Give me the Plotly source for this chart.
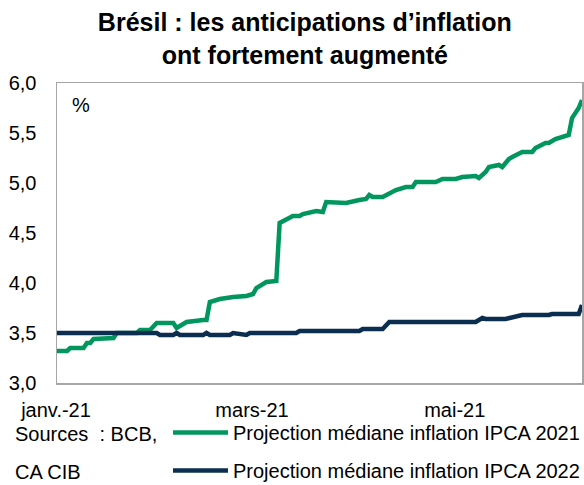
import plotly.graph_objects as go

# ---- data ----
dates_2021 = [
    "2021-01-04", "2021-01-07", "2021-01-08", "2021-01-12", "2021-01-13", "2021-01-14",
    "2021-01-15", "2021-01-21", "2021-01-22", "2021-01-28", "2021-01-29", "2021-02-01",
    "2021-02-03", "2021-02-08", "2021-02-09", "2021-02-12", "2021-02-17", "2021-02-18",
    "2021-02-19", "2021-02-22", "2021-02-26", "2021-03-02", "2021-03-04", "2021-03-05",
    "2021-03-08", "2021-03-11", "2021-03-12", "2021-03-15", "2021-03-16", "2021-03-18",
    "2021-03-19", "2021-03-23", "2021-03-25", "2021-03-26", "2021-03-29", "2021-04-01",
    "2021-04-05", "2021-04-07", "2021-04-08", "2021-04-09", "2021-04-12", "2021-04-14",
    "2021-04-16", "2021-04-19", "2021-04-21", "2021-04-22", "2021-04-28", "2021-04-30",
    "2021-05-04", "2021-05-06", "2021-05-10", "2021-05-11", "2021-05-13", "2021-05-14",
    "2021-05-17", "2021-05-18", "2021-05-20", "2021-05-21", "2021-05-24", "2021-05-27",
    "2021-05-28", "2021-05-31", "2021-06-01", "2021-06-03", "2021-06-04", "2021-06-07",
    "2021-06-08", "2021-06-09", "2021-06-10", "2021-06-11",
]
ipca_2021 = [
    3.32, 3.32, 3.35, 3.35, 3.40, 3.40,
    3.44, 3.45, 3.50, 3.50, 3.53, 3.53,
    3.60, 3.60, 3.55, 3.61, 3.63, 3.63,
    3.81, 3.84, 3.86, 3.87, 3.89, 3.95,
    4.01, 4.02, 4.60, 4.65, 4.67, 4.67,
    4.69, 4.72, 4.71, 4.81, 4.81, 4.80,
    4.83, 4.84, 4.88, 4.86, 4.86, 4.90,
    4.93, 4.96, 4.96, 5.01, 5.01, 5.04,
    5.04, 5.06, 5.07, 5.05, 5.11, 5.16,
    5.18, 5.16, 5.24, 5.26, 5.31, 5.31,
    5.35, 5.40, 5.40, 5.44, 5.45, 5.48,
    5.65, 5.70, 5.75, 5.83,
]

dates_2022 = [
    "2021-01-04", "2021-02-03", "2021-02-04", "2021-02-08", "2021-02-09", "2021-02-10",
    "2021-02-17", "2021-02-18", "2021-02-19", "2021-02-25", "2021-02-26", "2021-03-01",
    "2021-03-02", "2021-03-03", "2021-03-17", "2021-03-18", "2021-04-05", "2021-04-06",
    "2021-04-12", "2021-04-14", "2021-05-10", "2021-05-12", "2021-05-13", "2021-05-19",
    "2021-05-21", "2021-05-24", "2021-06-01", "2021-06-02", "2021-06-10", "2021-06-11",
]
ipca_2022 = [
    3.50, 3.50, 3.48, 3.48, 3.50, 3.48,
    3.48, 3.50, 3.48, 3.48, 3.50, 3.48,
    3.48, 3.50, 3.50, 3.52, 3.52, 3.54,
    3.54, 3.61, 3.61, 3.65, 3.64, 3.64,
    3.66, 3.68, 3.68, 3.69, 3.69, 3.78,
]

series_names = ["Projection médiane inflation IPCA 2021",
                "Projection médiane inflation IPCA 2022"]
tick_dates = ["2021-01-04", "2021-03-04", "2021-05-04"]
tick_labels = ["janv.-21", "mars-21", "mai-21"]
y_ticks = [3.0, 3.5, 4.0, 4.5, 5.0, 5.5, 6.0]

GREEN = "#00965E"
NAVY = "#0B2D50"
FRAME = "#A6A6A6"
FONT = "Liberation Sans, Arial, sans-serif"

fig = go.Figure()
fig.add_trace(go.Scatter(x=dates_2021, y=ipca_2021, mode="lines", name=series_names[0],
                         line=dict(color=GREEN, width=4.5), legendgroup="a"))
fig.add_trace(go.Scatter(x=dates_2022, y=ipca_2022, mode="lines", name=series_names[1],
                         line=dict(color=NAVY, width=4.5), legendgroup="b"))

fig.update_layout(
    width=584, height=485,
    margin=dict(l=57, r=2, t=83, b=102, autoexpand=False),
    paper_bgcolor="white", plot_bgcolor="white",
    separators=", ",
    font=dict(family=FONT, size=20, color="black"),
    title=dict(text="<b>Brésil : les anticipations d’inflation<br>ont fortement augmenté</b>",
               x=0.522, xanchor="center", y=0.936, yanchor="top",
               font=dict(family=FONT, size=25, color="black")),
    showlegend=True,
    legend=dict(orientation="v", x=0.2114, xanchor="left", y=-0.10, yanchor="top",
                bgcolor="rgba(0,0,0,0)", font=dict(size=20), tracegroupgap=9,
                itemwidth=55, traceorder="grouped"),
    xaxis=dict(type="date", range=["2021-01-04", "2021-06-11"],
               tickmode="array", tickvals=tick_dates, ticktext=tick_labels,
               showgrid=False, zeroline=False, ticks="", ticklabelstandoff=8,
               ticklabelshift=-1,
               showline=True, linecolor=FRAME, linewidth=1.5, mirror=True,
               tickfont=dict(size=20)),
    yaxis=dict(range=[3, 6], tickmode="array", tickvals=y_ticks, tickformat=".1f",
               showgrid=False, zeroline=False, ticks="", ticklabelstandoff=15,
               showline=True, linecolor=FRAME, linewidth=1.5, mirror=True,
               tickfont=dict(size=20)),
    annotations=[
        dict(text="%", xref="paper", yref="paper", x=0.045, y=0.927,
             xanchor="center", yanchor="middle", showarrow=False, font=dict(size=20)),
        dict(text="Sources\u00a0\u00a0: BCB,", xref="paper", yref="paper",
             x=-0.084, y=-0.17, xanchor="left", yanchor="middle", showarrow=False,
             font=dict(size=20)),
        dict(text="CA CIB", xref="paper", yref="paper",
             x=-0.084, y=-0.295, xanchor="left", yanchor="middle", showarrow=False,
             font=dict(size=20)),
    ],
)

# remove the default page margin so the 584x485 figure fills the window exactly
fig.write_html("out.html",
               config={"displayModeBar": False, "staticPlot": True},
               post_script="document.body.style.margin='0';"
                           "document.body.style.overflow='hidden';")
